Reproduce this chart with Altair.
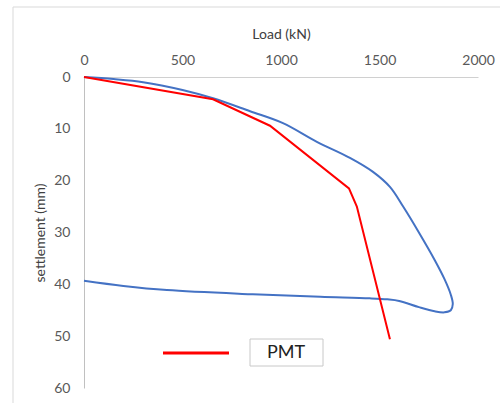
import altair as alt
import pandas as pd

# Load test curve (loading then unloading), in drawing order
blue_load = [0, 150, 300, 500, 655, 843, 1010, 1182, 1350, 1467, 1553, 1620, 1700, 1780,
             1830, 1862, 1872, 1862, 1830, 1780, 1700, 1600, 1540, 1450, 1200, 843, 421, 200, 0]
blue_settle = [0, 0.4, 1.0, 2.5, 4.1, 6.6, 8.9, 12.5, 15.6, 18.3, 21.2, 25.0, 30.0, 35.3,
               39.0, 42.0, 43.8, 45.0, 45.4, 45.2, 44.4, 43.2, 42.9, 42.7, 42.4, 41.9, 41.1, 40.3, 39.3]

# PMT prediction
pmt_load = [0, 655, 944, 1345, 1385, 1553]
pmt_settle = [0, 4.3, 9.4, 21.5, 25.0, 50.6]

x_ticks = [0, 500, 1000, 1500, 2000]
y_ticks = [0, 10, 20, 30, 40, 50, 60]

blue_df = pd.DataFrame({"load": blue_load, "settle": blue_settle,
                        "step": list(range(len(blue_load)))})
pmt_df = pd.DataFrame({"load": pmt_load, "settle": pmt_settle,
                       "step": list(range(len(pmt_load)))})

FONT = "Lato"
W, H = 394, 311

x_enc = alt.X("load:Q", scale=alt.Scale(domain=[0, 2000], nice=False),
              axis=alt.Axis(orient="top", title="Load (kN)", values=x_ticks, format="d",
                            grid=False, ticks=False, labelPadding=10, labelFlush=False,
                            titlePadding=12, domainColor="#d0d0d0"))
y_enc = alt.Y("settle:Q", scale=alt.Scale(domain=[0, 60], reverse=True, nice=False),
              axis=alt.Axis(orient="left", title="settlement (mm)", values=y_ticks, format="d",
                            grid=False, ticks=False, labelPadding=14, labelFlush=False,
                            titlePadding=6, domainColor="#c0c0c0"))

blue = alt.Chart(blue_df).mark_line(color="#4472C4", strokeWidth=2,
                                    interpolate="catmull-rom", clip=False).encode(
    x=x_enc, y=y_enc, order="step:O")

red = alt.Chart(pmt_df).mark_line(color="#FF0000", strokeWidth=2).encode(
    x="load:Q", y="settle:Q", order="step:O")

# outer chart frame
frame = alt.Chart(pmt_df.head(1)).mark_rect(
    fill=None, stroke="#d9d9d9", strokeWidth=1).encode(
    x=alt.value(-71), x2=alt.value(430), y=alt.value(-70), y2=alt.value(330))

# legend: line sample plus boxed label
leg_line = alt.Chart(pmt_df.head(1)).mark_rule(color="#FF0000", strokeWidth=3).encode(
    x=alt.value(79), x2=alt.value(145), y=alt.value(276))
leg_box = alt.Chart(pmt_df.head(1)).mark_rect(
    fill="white", stroke="#c8c8c8", strokeWidth=1).encode(
    x=alt.value(166), x2=alt.value(239), y=alt.value(262), y2=alt.value(289))
leg_text = alt.Chart(pmt_df.head(1)).mark_text(
    text="PMT", font=FONT, fontSize=18, color="#222222").encode(
    x=alt.value(202), y=alt.value(276))

chart = alt.layer(frame, blue, red, leg_line, leg_box, leg_text).properties(
    width=W, height=H,
    autosize=alt.AutoSizeParams(type="none"),
    padding={"left": 84, "top": 77, "right": 22, "bottom": 15},
).configure_view(stroke=None).configure_axis(
    labelFont=FONT, titleFont=FONT, labelFontSize=14, titleFontSize=14,
    labelColor="#595959", titleColor="#404040", titleFontWeight="normal")

chart.save("out.html", embed_options={"renderer": "svg", "actions": False})
